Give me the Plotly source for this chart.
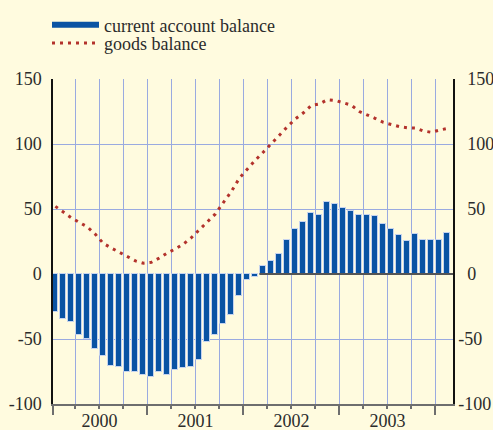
import plotly.graph_objects as go

# Monthly series, January 2000 to February 2004 (EUR billions, 12-month cumulated)
months = [f"{y}-{m:02d}" for y in range(2000, 2005) for m in range(1, 13)][:50]

current_account = [
    -29, -34.6, -37.2, -46.7, -49.8, -57.5, -62.8, -70.8, -71.3, -75.2,
    -75.7, -77.7, -79.2, -75.2, -77.4, -73.6, -72.3, -71.3, -65.9, -52.1,
    -46.7, -38.5, -31.6, -16.7, -4.8, -2.2, 6.4, 10.2, 15.6, 26.4,
    34.8, 40.2, 46.6, 45.3, 55.1, 53.6, 50.5, 48.2, 45.3, 45.3,
    44.3, 38.7, 34.3, 29.7, 25.6, 31.0, 25.9, 25.9, 26.2, 31.2,
]

goods_balance = [
    52, 47.5, 43.2, 39.7, 36.2, 30.5, 23.5, 20, 16.6, 13.2,
    10.1, 8.3, 9, 12.3, 16.2, 19.3, 23, 28, 33.9, 40.5,
    46.2, 55, 63.5, 73.7, 81, 87.6, 93.8, 100, 106.8, 113.3,
    119.3, 124, 129.7, 130.8, 134.1, 133.5, 131.6, 129.8, 125, 122.5,
    119.6, 116.6, 114.7, 113.4, 112.5, 112.3, 110, 109, 110.7, 112,
]

years = ["2000", "2001", "2002", "2003"]
y_ticks = [-100, -50, 0, 50, 100, 150]
y_grid = [-50, 50, 100, 150]

BG = "#fffbdf"
BAR = "#0a53a3"
BAR_EDGE = "#c6d3ef"
GOODS = "#b3322c"
GRID = "#9aaae0"
AXIS_GREY = "#6e6e6e"
FONT = dict(family="Liberation Serif, serif", size=18, color="#2b2b2b")

pos = list(range(len(months)))
x_range = [-0.3, len(months) - 0.3]

# quarter boundaries carry the vertical grid, year boundaries the long ticks
quarter_edges = [i - 0.5 for i, m in enumerate(months) if i > 0 and int(m[5:]) % 3 == 1]
year_edges = [x_range[0]] + [i - 0.5 for i, m in enumerate(months) if i > 0 and m.endswith("-01")]
year_mid = [months.index(f"{y}-07") - 0.5 for y in years]
first_surplus = next(i for i, v in enumerate(current_account) if v > 0)

fig = go.Figure()

# empty traces so the overlaid axes (ticks, labels, grid) get drawn
for xa, ya in [("x2", "y"), ("x3", "y"), ("x", "y2"), ("x", "y3")]:
    fig.add_trace(go.Scatter(x=[None], y=[None], xaxis=xa, yaxis=ya,
                             showlegend=False, hoverinfo="skip"))

fig.add_trace(go.Bar(
    x=pos, y=current_account, width=0.75,
    marker=dict(color=BAR, line=dict(color=BAR_EDGE, width=1)),
    showlegend=False, legendgroup="ca", name="current account balance",
))
fig.add_trace(go.Scatter(
    x=[None], y=[None], mode="lines",
    line=dict(color=BAR, width=6),
    name="current account balance", legendgroup="ca", legend="legend",
))
fig.add_trace(go.Scatter(
    x=pos, y=goods_balance, mode="lines",
    line=dict(color=GOODS, width=3, dash="3px,5px"),
    name="goods balance", legend="legend2",
))

# baseline under the surplus bars
fig.add_shape(
    type="line", xref="x", yref="y",
    x0=first_surplus - 0.5, x1=x_range[1], y0=0, y1=0,
    line=dict(color="#555555", width=2), layer="above",
)

ytext_left = [str(v) for v in y_ticks]
# right-hand labels: the minus sign hangs out, digits line up
ytext_right = [str(v) if v < 0 else "\u2002" + str(v) for v in y_ticks]
legend_style = dict(x=-0.015, xanchor="left", yanchor="top",
                    bgcolor="rgba(0,0,0,0)", font=FONT, itemwidth=47)

fig.update_layout(
    width=493, height=430, autosize=False,
    margin=dict(l=53, r=40, t=79, b=26, autoexpand=False),
    paper_bgcolor=BG, plot_bgcolor=BG,
    font=FONT,
    bargap=0,
    legend=dict(y=1.223, **legend_style),
    legend2=dict(y=1.167, **legend_style),
    xaxis=dict(
        range=x_range, tickvals=quarter_edges, showticklabels=False,
        ticks="outside", ticklen=3, tickwidth=1.5, tickcolor=AXIS_GREY,
        showgrid=True, gridcolor=GRID, gridwidth=1, automargin=False,
        showline=True, linecolor=AXIS_GREY, linewidth=2, zeroline=False,
    ),
    xaxis2=dict(
        range=x_range, overlaying="x", anchor="y", tickvals=year_edges,
        showticklabels=False, ticks="outside", ticklen=10, tickwidth=1.5,
        tickcolor=AXIS_GREY, showgrid=False, showline=False, zeroline=False,
        automargin=False,
    ),
    xaxis3=dict(
        range=x_range, overlaying="x", anchor="y", tickvals=year_mid,
        ticktext=years, ticks="", showgrid=False, showline=False,
        zeroline=False, tickfont=FONT, ticklabelstandoff=4, automargin=False,
    ),
    yaxis=dict(
        range=[-100, 150], tickvals=y_ticks, ticktext=ytext_left, ticks="",
        showgrid=False, zeroline=False, showline=True,
        linecolor="#111111", linewidth=1.5, tickfont=FONT,
        ticklabelstandoff=6, automargin=False,
    ),
    yaxis2=dict(
        range=[-100, 150], overlaying="y", side="right", anchor="x",
        tickvals=y_ticks, ticktext=ytext_right, ticks="",
        showgrid=False, zeroline=False, showline=True,
        linecolor="#111111", linewidth=1.5, tickfont=FONT,
        ticklabelstandoff=0, automargin=False,
    ),
    yaxis3=dict(
        range=[-100, 150], overlaying="y", anchor="x", tickvals=y_grid,
        showticklabels=False, ticks="", showgrid=True, gridcolor=GRID,
        gridwidth=1, zeroline=False, showline=False, automargin=False,
    ),
)

fig.write_html("out.html")
